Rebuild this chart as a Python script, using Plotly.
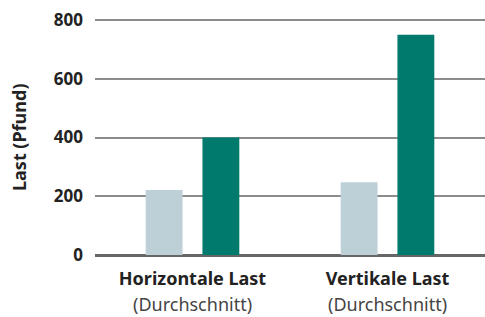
import plotly.graph_objects as go

categories = ["Horizontale Last", "Vertikale Last"]
subtitles = ["(Durchschnitt)", "(Durchschnitt)"]
series_light = [221, 248]
series_dark = [400, 750]
y_ticks = [0, 200, 400, 600, 800]

FONT = "Noto Sans"

fig = go.Figure()
fig.add_trace(go.Bar(x=categories, y=series_light, marker=dict(color="#bdd0d8", line=dict(width=0)), showlegend=False))
fig.add_trace(go.Bar(x=categories, y=series_dark, marker=dict(color="#007a6d", line=dict(width=0)), showlegend=False))

fig.update_layout(
    width=485, height=317,
    margin=dict(l=95, r=0, t=15, b=62),
    paper_bgcolor="white", plot_bgcolor="white",
    barmode="group", bargap=0.418, bargroupgap=0.35,
    font=dict(family=FONT, color="#222"),
)
fig.update_xaxes(
    type="category", range=[-0.5, 1.5],
    tickvals=categories, ticktext=["<b>%s</b>" % c for c in categories],
    tickfont=dict(size=18, color="#222", family=FONT),
    ticks="", ticklabelstandoff=11, showgrid=False, showline=False, zeroline=False,
)
fig.update_yaxes(
    range=[0, 800 * 240 / 235], tickvals=y_ticks,
    ticktext=["<b>%d</b>" % v for v in y_ticks],
    tickfont=dict(size=17, color="#222", family=FONT),
    showgrid=True, gridcolor="#8c8c8c", gridwidth=2,
    zeroline=True, zerolinecolor="#666", zerolinewidth=2.5,
    ticks="", ticklabelstandoff=11, showline=False,
)
fig.add_annotation(
    text="<b>Last (Pfund)</b>", textangle=-90, xref="paper", yref="paper",
    x=-(95 - 19) / 390, y=(255 - 137) / 240, xanchor="center", yanchor="middle",
    showarrow=False, font=dict(size=18, color="#222", family=FONT),
)
for c, s in zip(categories, subtitles):
    fig.add_annotation(
        text=s, xref="x", yref="paper", x=c, y=-(303.5 - 255) / 240,
        xanchor="center", yanchor="middle", showarrow=False,
        font=dict(size=18, color="#444", family=FONT),
    )

fig.write_html("out.html", config={"displayModeBar": False},
               post_script="document.body.style.margin='0';document.body.style.padding='0';")
